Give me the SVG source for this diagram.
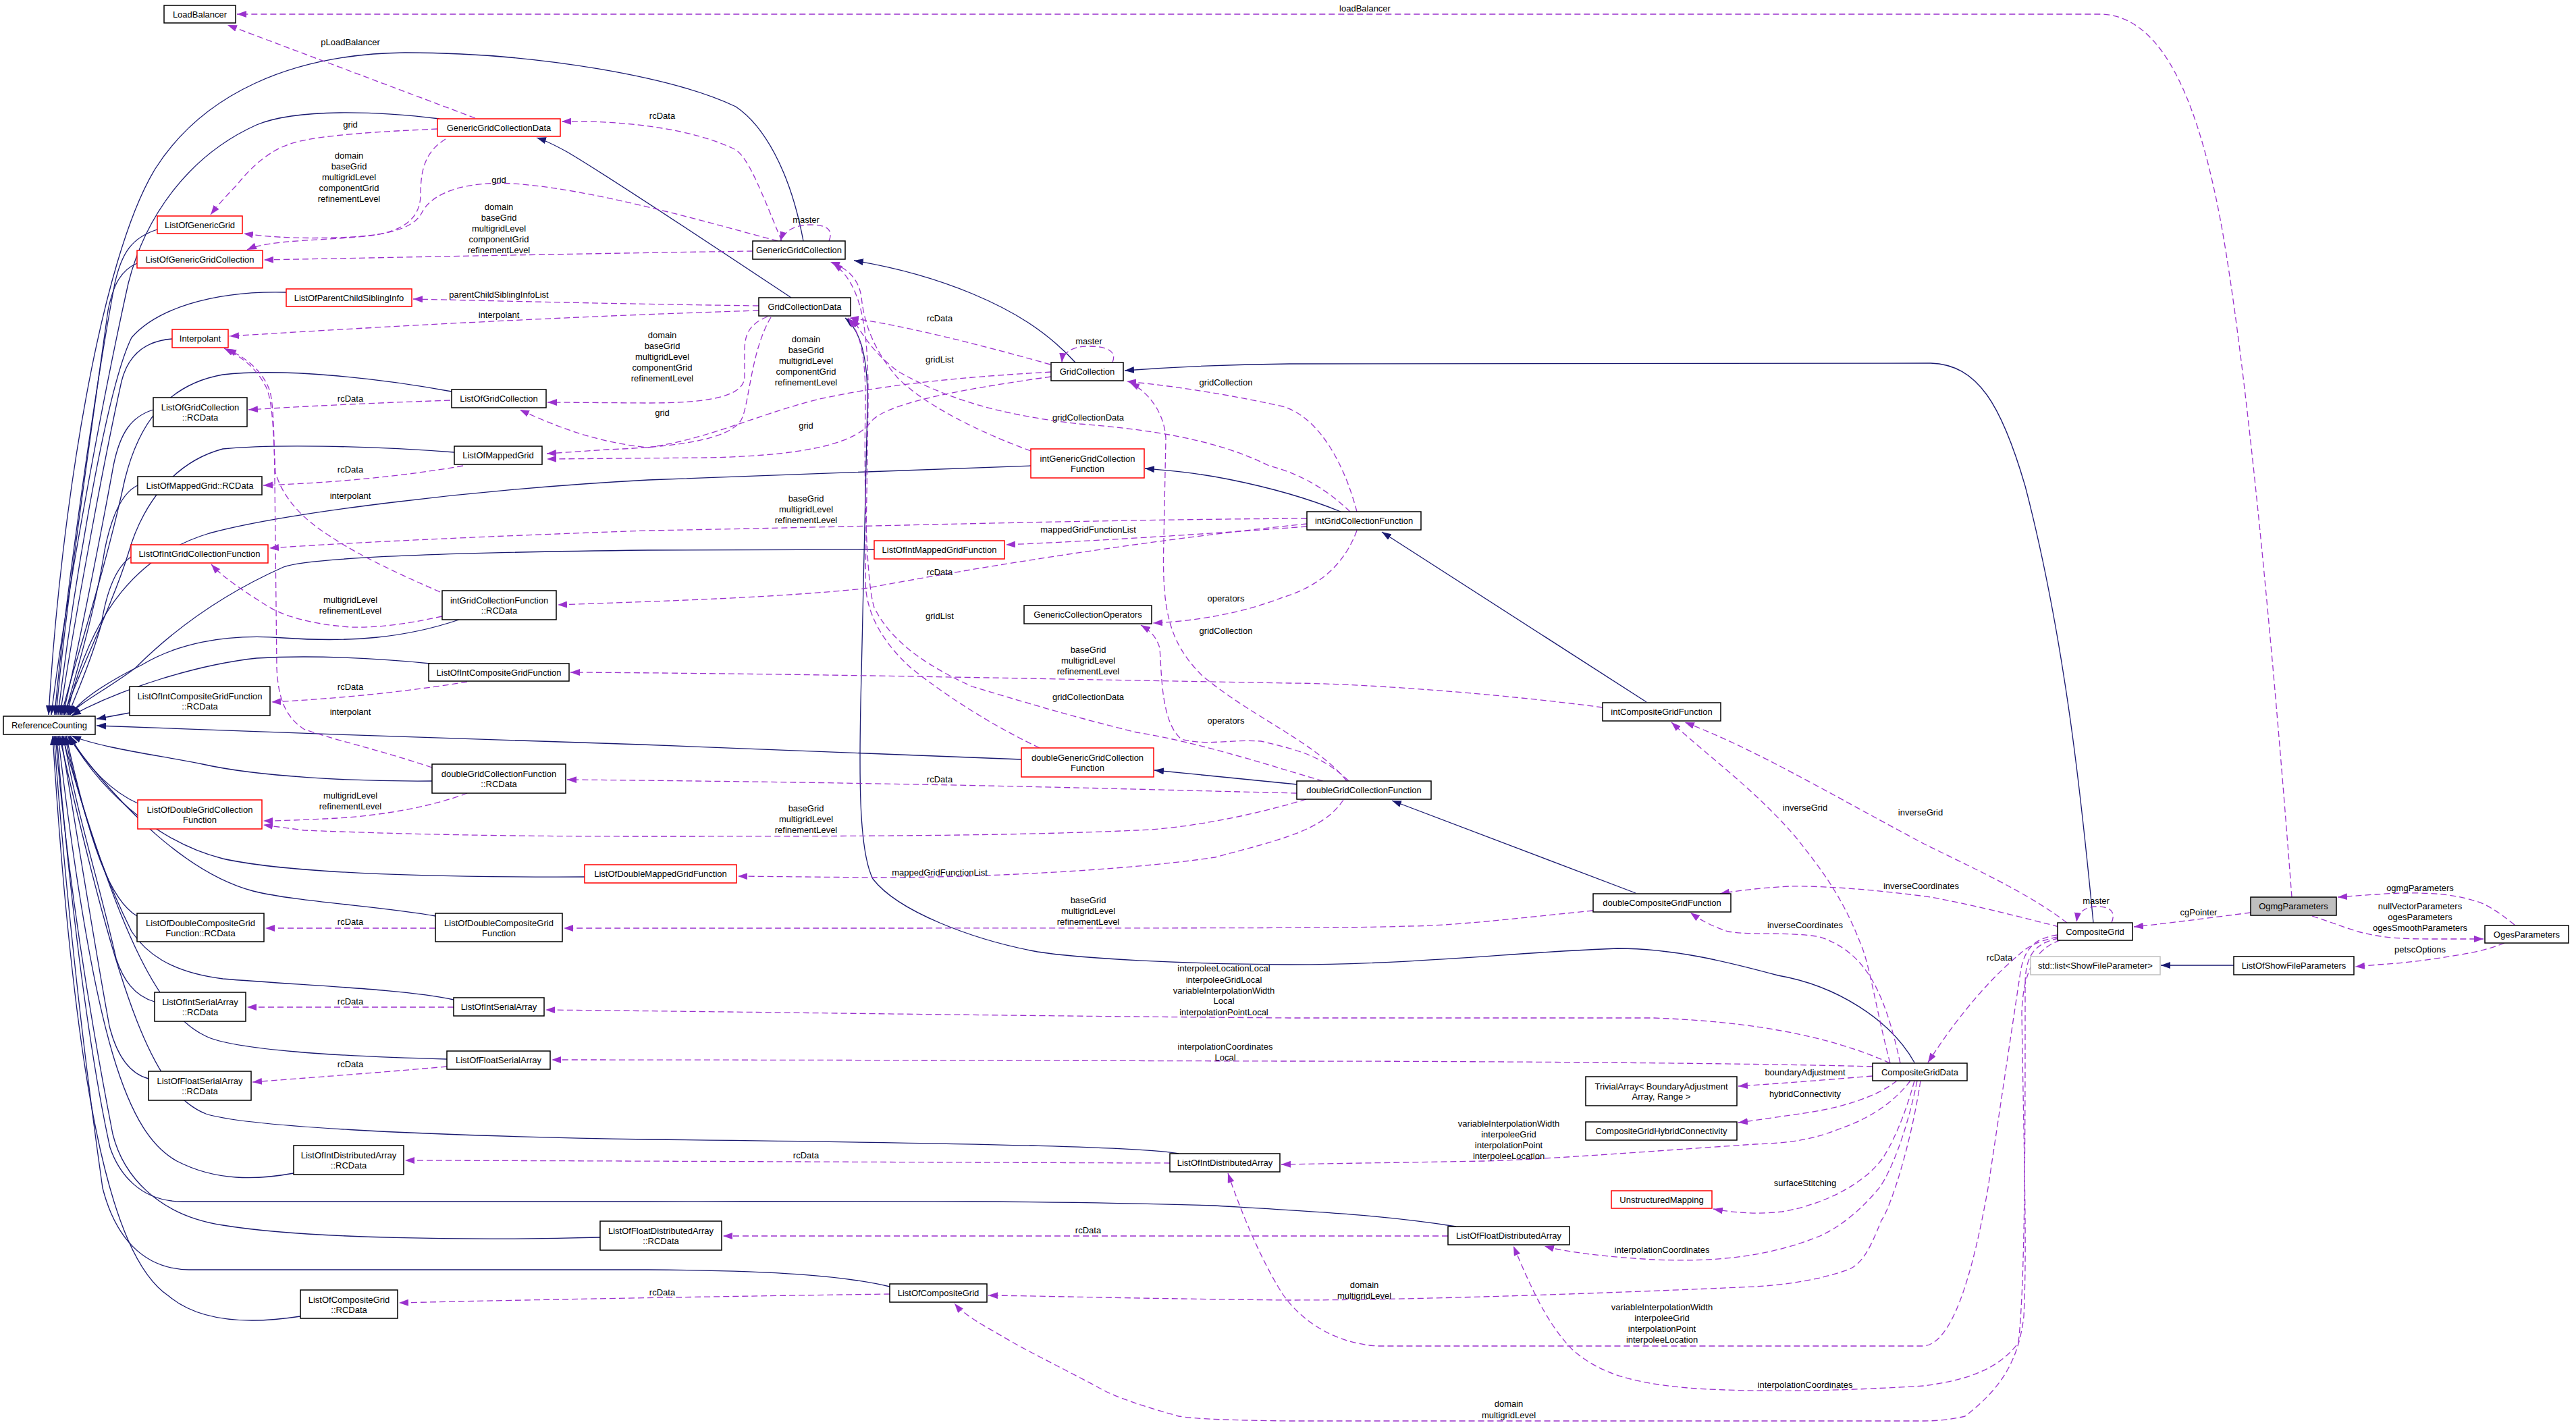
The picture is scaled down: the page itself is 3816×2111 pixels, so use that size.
<svg xmlns="http://www.w3.org/2000/svg" width="3816" height="2111" viewBox="0 0 3816 2111">
<defs>
<marker id="pa" viewBox="0 0 14 10" refX="14" refY="5" markerWidth="14" markerHeight="10" markerUnits="userSpaceOnUse" orient="auto"><path d="M0,0L14,5L0,10z" fill="#9a32cd"/></marker>
<marker id="na" viewBox="0 0 14 10" refX="14" refY="5" markerWidth="14" markerHeight="10" markerUnits="userSpaceOnUse" orient="auto"><path d="M0,0L14,5L0,10z" fill="#191970"/></marker>
<style>
text{font-family:"Liberation Sans",Arial,sans-serif;font-size:13px;fill:#000;text-anchor:middle}
.b{fill:#fff;stroke:#000;stroke-width:1.5}
.r{fill:#fff;stroke:#ff0000;stroke-width:1.5}
.g{fill:#bfbfbf;stroke:#000;stroke-width:1.5}
.s{fill:#fff;stroke:#bfbfbf;stroke-width:1.5}
.i{fill:none;stroke:#191970;stroke-width:1.3;marker-end:url(#na)}
.u{fill:none;stroke:#9a32cd;stroke-width:1.3;stroke-dasharray:9,5;marker-end:url(#pa)}
</style>
</defs>
<rect width="3816" height="2111" fill="#fff"/>
<g id="edges">
<!-- inheritance -->
<path class="i" d="M1190,357 C1170,250 1130,185 1090,158 C1000,115 800,78 600,78 C430,80 300,140 230,250 C150,380 90,750 72,1059"/>
<path class="i" d="M651,176 C560,165 440,160 380,185 C280,230 215,320 190,420 C150,600 95,900 76,1059"/>
<path class="i" d="M233,340 C195,352 180,375 170,420 C140,580 95,900 81,1059"/>
<path class="i" d="M203,390 C180,400 168,420 160,460 C135,640 97,900 83,1059"/>
<path class="i" d="M424,433 C310,430 230,460 195,500 C155,580 105,900 86,1059"/>
<path class="i" d="M255,502 C215,505 190,525 180,565 C150,700 105,950 89,1059"/>
<path class="i" d="M669,580 C560,560 420,545 330,555 C245,570 205,630 185,710 C155,850 105,1000 91,1059"/>
<path class="i" d="M227,607 C195,617 178,640 168,690 C148,800 108,1000 93,1059"/>
<path class="i" d="M673,670 C540,660 400,658 330,665 C255,685 210,750 190,820 C165,900 115,1000 95,1059"/>
<path class="i" d="M204,719 C180,730 165,765 155,815 C142,900 112,1000 96,1059"/>
<path class="i" d="M1527,690 L960,711 C700,725 420,760 310,790 C210,820 135,900 99,1059"/>
<path class="i" d="M194,825 C172,840 158,875 150,925 C135,980 112,1030 101,1059"/>
<path class="i" d="M680,918 C600,945 520,952 420,945 C330,938 260,955 210,985 C160,1010 120,1035 104,1059"/>
<path class="i" d="M1295,814 L960,815 C700,818 460,825 420,840 C330,880 260,930 200,990 C160,1020 120,1040 102,1059"/>
<path class="i" d="M637,983 C560,975 460,970 380,975 C290,985 180,1020 106,1060"/>
<path class="i" d="M192,1056 L143,1065"/>
<path class="i" d="M1513,1125 L950,1103 C700,1095 400,1085 143,1075"/>
<path class="i" d="M640,1157 C520,1158 380,1150 300,1132 C230,1118 150,1108 106,1090"/>
<path class="i" d="M204,1190 C170,1175 130,1140 104,1090"/>
<path class="i" d="M866,1299 C600,1300 420,1292 330,1272 C250,1252 160,1190 102,1090"/>
<path class="i" d="M645,1357 C560,1342 440,1336 375,1320 C280,1295 180,1200 100,1090"/>
<path class="i" d="M203,1357 C165,1335 135,1260 98,1090"/>
<path class="i" d="M672,1481 C600,1465 450,1460 330,1450 C250,1440 215,1410 195,1380 C155,1300 120,1200 96,1090"/>
<path class="i" d="M229,1484 C198,1475 182,1450 172,1420 C145,1300 112,1200 94,1090"/>
<path class="i" d="M662,1569 C500,1565 345,1555 305,1535 C240,1505 180,1400 92,1090"/>
<path class="i" d="M220,1598 C190,1590 172,1560 162,1520 C140,1400 108,1200 90,1090"/>
<path class="i" d="M1746,1709 C1700,1700 1500,1694 960,1688 C600,1682 360,1668 305,1650 C230,1620 180,1500 88,1090"/>
<path class="i" d="M435,1738 C380,1748 320,1750 262,1720 C190,1680 140,1550 86,1090"/>
<path class="i" d="M2157,1817 C2050,1800 1950,1795 1800,1786 C1500,1777 1200,1780 960,1780 L270,1780 C205,1780 175,1735 163,1700 C130,1550 100,1300 84,1090"/>
<path class="i" d="M889,1833 C700,1838 450,1835 330,1815 C232,1800 182,1740 167,1680 C132,1500 100,1300 82,1090"/>
<path class="i" d="M1318,1906 C1250,1890 1150,1882 960,1881 L280,1881 C210,1880 170,1830 152,1760 C122,1550 95,1300 80,1090"/>
<path class="i" d="M445,1950 C380,1960 300,1962 250,1920 C160,1860 110,1600 78,1090"/>
<path class="i" d="M1172,441 C1050,360 900,260 840,225 C820,214 808,208 795,204"/>
<path class="i" d="M1593,537 C1550,490 1500,460 1440,435 C1380,410 1320,395 1265,386"/>
<path class="i" d="M3101,1367 C3085,1200 3060,950 3000,720 C2965,600 2930,540 2860,538 L1910,539 C1800,540 1720,545 1666,549"/>
<path class="i" d="M1986,758 C1930,735 1870,720 1820,710 C1770,700 1730,697 1696,694"/>
<path class="i" d="M2439,1040 L2047,788"/>
<path class="i" d="M2423,1323 L2062,1186"/>
<path class="i" d="M1921,1162 L1710,1141"/>
<path class="i" d="M3309,1430 L3201,1430"/>
<path class="i" d="M2836,1574 C2800,1510 2720,1460 2634,1445 C2560,1425 2480,1405 2396,1405 C2250,1410 2100,1429 1910,1429 C1750,1428 1600,1420 1537,1410 C1440,1392 1330,1350 1293,1302 C1272,1260 1272,1150 1276,1000 L1285,600 C1286,530 1275,490 1252,471"/>
<!-- usage -->
<path class="u" d="M3395,1329 C3370,1000 3330,550 3290,330 C3260,170 3210,21 3110,21 L351,21"/>
<path class="u" d="M704,175 L337,37"/>
<path class="u" d="M1158,357 C1130,290 1110,235 1090,222 C1030,192 930,178 832,180"/>
<path class="u" d="M1228,357 C1235,340 1225,333 1200,333 C1175,333 1160,345 1156,357"/>
<path class="u" d="M648,191 C560,195 470,200 430,213 C395,225 370,250 350,275 C335,290 322,305 312,318"/>
<path class="u" d="M660,206 C630,225 623,250 623,290 C622,325 595,345 540,350 C470,357 400,355 366,370"/>
<path class="u" d="M1152,357 C1050,330 880,280 760,272 C690,268 640,285 625,315 C612,340 570,350 500,352 C430,354 390,350 361,346"/>
<path class="u" d="M1115,372 C900,375 600,381 391,385"/>
<path class="u" d="M1124,453 C900,450 750,446 612,443"/>
<path class="u" d="M1124,460 C800,470 500,488 340,498"/>
<path class="u" d="M1137,469 C1110,480 1103,495 1103,520 L1103,560 C1100,590 1040,597 960,597 L811,596"/>
<path class="u" d="M1142,470 C1112,520 1110,600 1098,622 C1080,652 1000,662 900,666 L810,672"/>
<path class="u" d="M1556,540 C1450,510 1330,480 1258,471"/>
<path class="u" d="M1648,537 C1655,520 1640,513 1612,513 C1585,513 1574,525 1573,537"/>
<path class="u" d="M1557,551 C1400,560 1300,572 1210,592 C1120,615 1050,650 960,663 C880,655 820,630 770,607"/>
<path class="u" d="M1557,558 C1400,580 1310,600 1290,625 C1265,660 1180,675 1050,678 L810,680"/>
<path class="u" d="M2010,758 C1995,700 1960,620 1900,602 C1800,580 1720,570 1669,565"/>
<path class="u" d="M1995,1157 C1950,1100 1850,1060 1780,1000 C1730,950 1721,900 1724,800 L1727,650 C1725,610 1700,580 1674,567"/>
<path class="u" d="M2010,786 C1990,840 1950,870 1900,885 C1850,905 1780,920 1708,923"/>
<path class="u" d="M1998,1157 C1960,1120 1920,1110 1868,1098 C1820,1095 1790,1105 1750,1095 C1720,1070 1721,1000 1718,960 C1712,940 1700,932 1690,926"/>
<path class="u" d="M1527,668 C1450,640 1370,600 1330,560 C1295,520 1280,480 1276,440 C1272,410 1250,395 1230,388"/>
<path class="u" d="M1540,1108 C1470,1075 1400,1030 1350,990 C1300,945 1282,900 1282,860 L1286,600 C1287,480 1275,420 1234,390"/>
<path class="u" d="M2000,758 C1960,720 1920,700 1880,690 C1800,650 1700,636 1600,628 C1480,615 1400,590 1330,550 C1290,520 1275,490 1262,471"/>
<path class="u" d="M1960,1157 C1900,1140 1780,1100 1684,1085 C1600,1065 1500,1035 1440,1017 C1370,985 1320,950 1295,900 C1282,860 1280,700 1282,600 C1283,520 1272,490 1256,471"/>
<path class="u" d="M1936,776 C1700,800 1450,840 1280,872 C1150,885 1000,890 826,896"/>
<path class="u" d="M1921,1175 C1700,1170 1400,1160 840,1155"/>
<path class="u" d="M1936,780 C1800,790 1650,800 1490,807"/>
<path class="u" d="M1990,1185 C1960,1230 1900,1243 1800,1270 C1700,1285 1500,1300 1293,1300 L1093,1298"/>
<path class="u" d="M1936,768 C1600,770 1300,780 960,786 C700,795 500,805 399,812"/>
<path class="u" d="M655,913 C600,925 560,930 520,929 C460,925 420,912 398,899 C360,875 330,855 313,836"/>
<path class="u" d="M2374,1048 C2200,1025 2000,1012 1910,1012 C1500,1005 1200,998 845,996"/>
<path class="u" d="M692,1175 C640,1195 560,1210 480,1213 C440,1215 410,1216 390,1216"/>
<path class="u" d="M1935,1184 C1850,1210 1750,1228 1684,1230 C1500,1238 1300,1239 950,1239 C750,1239 600,1236 450,1230 L390,1222"/>
<path class="u" d="M2360,1349 C2250,1360 2150,1372 2084,1372 C2000,1375 1900,1375 835,1375"/>
<path class="u" d="M652,877 C590,850 530,822 490,795 C450,770 420,740 408,700 C405,650 405,600 395,575 C380,545 360,530 332,516"/>
<path class="u" d="M640,1137 C560,1110 490,1095 450,1080 C420,1060 412,1030 410,990 L407,710 C406,640 405,600 400,580 C390,550 365,530 336,517"/>
<path class="u" d="M692,1010 C600,1025 500,1035 402,1040"/>
<path class="u" d="M645,1375 L393,1375"/>
<path class="u" d="M667,593 C550,597 450,602 368,607"/>
<path class="u" d="M686,690 C600,705 500,715 390,719"/>
<path class="u" d="M672,1492 L366,1492"/>
<path class="u" d="M662,1580 C550,1590 450,1597 374,1603"/>
<path class="u" d="M1733,1723 C1400,1722 1000,1720 600,1719"/>
<path class="u" d="M2145,1831 L1071,1831"/>
<path class="u" d="M1318,1917 C1100,1920 800,1925 591,1930"/>
<path class="u" d="M3334,1352 C3270,1360 3210,1368 3161,1373"/>
<path class="u" d="M3128,1367 C3135,1350 3125,1343 3107,1343 C3088,1343 3078,1352 3076,1366"/>
<path class="u" d="M3048,1388 C3015,1395 3000,1405 2990,1415 C2960,1440 2910,1490 2856,1574"/>
<path class="u" d="M3062,1367 C3000,1320 2920,1285 2850,1250 C2700,1170 2600,1110 2496,1070"/>
<path class="u" d="M2800,1575 C2780,1500 2770,1430 2757,1400 C2730,1330 2700,1290 2660,1240 C2600,1170 2530,1120 2476,1070"/>
<path class="u" d="M3050,1373 C2980,1355 2920,1340 2860,1329 C2780,1318 2700,1312 2650,1313 C2600,1316 2570,1320 2548,1324"/>
<path class="u" d="M2815,1575 C2790,1460 2760,1410 2696,1388 C2650,1380 2600,1386 2560,1380 C2530,1370 2515,1360 2504,1352"/>
<path class="u" d="M2800,1575 C2700,1530 2580,1513 2450,1508 L1910,1508 C1500,1505 1200,1500 808,1496"/>
<path class="u" d="M2774,1580 C2600,1575 2200,1572 1900,1572 C1500,1571 1100,1570 817,1570"/>
<path class="u" d="M2774,1594 C2700,1600 2640,1605 2575,1609"/>
<path class="u" d="M2810,1601 C2780,1625 2730,1640 2680,1648 C2630,1655 2600,1660 2575,1663"/>
<path class="u" d="M2830,1601 C2800,1640 2760,1660 2726,1672 C2680,1690 2650,1693 2600,1695 C2450,1705 2300,1717 2200,1720 L1898,1725"/>
<path class="u" d="M2836,1601 C2820,1660 2800,1700 2788,1717 C2760,1755 2700,1785 2640,1795 C2600,1800 2560,1795 2538,1791"/>
<path class="u" d="M2840,1601 C2820,1700 2790,1755 2781,1763 C2750,1800 2720,1820 2696,1831 C2620,1862 2540,1870 2450,1866 C2380,1862 2320,1855 2288,1846"/>
<path class="u" d="M2845,1601 C2830,1700 2800,1790 2787,1808 C2770,1850 2760,1870 2740,1880 C2700,1895 2650,1903 2600,1906 C2400,1915 2100,1926 1910,1926 C1700,1924 1550,1920 1464,1919"/>
<path class="u" d="M3048,1385 C3010,1390 2998,1410 2993,1440 L2945,1760 C2920,1900 2890,1990 2850,1994 L2040,1994 C1980,1990 1930,1960 1900,1917 C1870,1870 1840,1800 1819,1738"/>
<path class="u" d="M3050,1390 C3010,1398 3000,1420 3000,1460 C3000,1700 3000,1900 2990,1989 C2960,2030 2910,2045 2850,2053 C2700,2062 2600,2062 2512,2057 C2420,2050 2370,2035 2330,2000 C2290,1960 2265,1900 2242,1846"/>
<path class="u" d="M3052,1393 C3015,1405 2997,1440 2995,1500 C2998,1700 3003,1850 2998,1950 C2990,2020 2960,2060 2911,2098 C2890,2103 2870,2105 2850,2105 L1910,2105 C1820,2104 1770,2102 1746,2098 C1700,2085 1650,2070 1623,2053 C1560,2020 1520,2000 1501,1989 C1460,1965 1430,1950 1414,1931"/>
<path class="u" d="M3725,1370 C3700,1350 3680,1337 3664,1334 C3620,1320 3560,1322 3520,1325 C3500,1326 3480,1328 3463,1329"/>
<path class="u" d="M3425,1357 C3450,1365 3470,1373 3493,1380 C3530,1390 3560,1391 3600,1391 L3679,1391"/>
<path class="u" d="M3710,1397 C3690,1405 3670,1410 3646,1414 C3600,1422 3560,1427 3523,1429 L3489,1432"/>
</g>
<g id="labels">
<text x="2022" y="17">loadBalancer</text>
<text x="519" y="67">pLoadBalancer</text>
<text x="981" y="176">rcData</text>
<text x="1194" y="330">master</text>
<text x="519" y="189">grid</text>
<text x="517" y="235">domain</text><text x="517" y="251">baseGrid</text><text x="517" y="267">multigridLevel</text><text x="517" y="283">componentGrid</text><text x="517" y="299">refinementLevel</text>
<text x="739" y="271">grid</text>
<text x="739" y="311">domain</text><text x="739" y="327">baseGrid</text><text x="739" y="343">multigridLevel</text><text x="739" y="359">componentGrid</text><text x="739" y="375">refinementLevel</text>
<text x="739" y="441">parentChildSiblingInfoList</text>
<text x="739" y="471">interpolant</text>
<text x="981" y="501">domain</text><text x="981" y="517">baseGrid</text><text x="981" y="533">multigridLevel</text><text x="981" y="549">componentGrid</text><text x="981" y="565">refinementLevel</text>
<text x="981" y="616">grid</text>
<text x="1392" y="476">rcData</text>
<text x="1613" y="510">master</text>
<text x="1194" y="507">domain</text><text x="1194" y="523">baseGrid</text><text x="1194" y="539">multigridLevel</text><text x="1194" y="555">componentGrid</text><text x="1194" y="571">refinementLevel</text>
<text x="1194" y="635">grid</text>
<text x="1816" y="571">gridCollection</text>
<text x="1816" y="939">gridCollection</text>
<text x="1816" y="891">operators</text>
<text x="1816" y="1072">operators</text>
<text x="1392" y="537">gridList</text>
<text x="1392" y="917">gridList</text>
<text x="1612" y="623">gridCollectionData</text>
<text x="1612" y="1037">gridCollectionData</text>
<text x="1392" y="852">rcData</text>
<text x="1392" y="1159">rcData</text>
<text x="1612" y="789">mappedGridFunctionList</text>
<text x="1392" y="1297">mappedGridFunctionList</text>
<text x="1194" y="743">baseGrid</text><text x="1194" y="759">multigridLevel</text><text x="1194" y="775">refinementLevel</text>
<text x="519" y="893">multigridLevel</text><text x="519" y="909">refinementLevel</text>
<text x="1612" y="967">baseGrid</text><text x="1612" y="983">multigridLevel</text><text x="1612" y="999">refinementLevel</text>
<text x="519" y="1183">multigridLevel</text><text x="519" y="1199">refinementLevel</text>
<text x="1194" y="1202">baseGrid</text><text x="1194" y="1218">multigridLevel</text><text x="1194" y="1234">refinementLevel</text>
<text x="1612" y="1338">baseGrid</text><text x="1612" y="1354">multigridLevel</text><text x="1612" y="1370">refinementLevel</text>
<text x="519" y="739">interpolant</text>
<text x="519" y="1059">interpolant</text>
<text x="519" y="1022">rcData</text>
<text x="519" y="1370">rcData</text>
<text x="519" y="595">rcData</text>
<text x="519" y="700">rcData</text>
<text x="519" y="1488">rcData</text>
<text x="519" y="1581">rcData</text>
<text x="1194" y="1716">rcData</text>
<text x="1612" y="1827">rcData</text>
<text x="981" y="1919">rcData</text>
<text x="3257" y="1356">cgPointer</text>
<text x="3105" y="1339">master</text>
<text x="2962" y="1423">rcData</text>
<text x="2845" y="1208">inverseGrid</text>
<text x="2674" y="1201">inverseGrid</text>
<text x="2846" y="1317">inverseCoordinates</text>
<text x="2674" y="1375">inverseCoordinates</text>
<text x="1813" y="1439">interpoleeLocationLocal</text><text x="1813" y="1456">interpoleeGridLocal</text><text x="1813" y="1472">variableInterpolationWidth</text><text x="1813" y="1487">Local</text><text x="1813" y="1504">interpolationPointLocal</text>
<text x="1815" y="1555">interpolationCoordinates</text><text x="1815" y="1571">Local</text>
<text x="2674" y="1593">boundaryAdjustment</text>
<text x="2674" y="1625">hybridConnectivity</text>
<text x="2235" y="1669">variableInterpolationWidth</text><text x="2235" y="1685">interpoleeGrid</text><text x="2235" y="1701">interpolationPoint</text><text x="2235" y="1717">interpoleeLocation</text>
<text x="2674" y="1757">surfaceStitching</text>
<text x="2462" y="1856">interpolationCoordinates</text>
<text x="2021" y="1908">domain</text><text x="2021" y="1924">multigridLevel</text>
<text x="2462" y="1941">variableInterpolationWidth</text><text x="2462" y="1957">interpoleeGrid</text><text x="2462" y="1973">interpolationPoint</text><text x="2462" y="1989">interpoleeLocation</text>
<text x="2674" y="2056">interpolationCoordinates</text>
<text x="2235" y="2084">domain</text><text x="2235" y="2101">multigridLevel</text>
<text x="3585" y="1320">ogmgParameters</text>
<text x="3585" y="1347">nullVectorParameters</text><text x="3585" y="1363">ogesParameters</text><text x="3585" y="1379">ogesSmoothParameters</text>
<text x="3585" y="1411">petscOptions</text>
</g>
<g id="n_LoadBalancer"><rect class="b" x="243" y="8" width="106" height="26"/><text x="296" y="25.5">LoadBalancer</text></g>
<g id="n_GenericGridCollectionData"><rect class="r" x="648" y="176" width="182" height="26"/><text x="739" y="193.5">GenericGridCollectionData</text></g>
<g id="n_ListOfGenericGrid"><rect class="r" x="233" y="320" width="126" height="26"/><text x="296" y="337.5">ListOfGenericGrid</text></g>
<g id="n_ListOfGenericGridCollection"><rect class="r" x="203" y="371" width="186" height="26"/><text x="296" y="388.5">ListOfGenericGridCollection</text></g>
<g id="n_ListOfParentChildSiblingInfo"><rect class="r" x="424" y="428" width="186" height="26"/><text x="517" y="445.5">ListOfParentChildSiblingInfo</text></g>
<g id="n_Interpolant"><rect class="r" x="255" y="488" width="83" height="27"/><text x="296.5" y="506">Interpolant</text></g>
<g id="n_ListOfGridCollection"><rect class="b" x="669" y="577" width="140" height="27"/><text x="739" y="595">ListOfGridCollection</text></g>
<g id="n_ListOfGridCollection_RCData"><rect class="b" x="227" y="589" width="139" height="43"/><text x="296.5" y="607.5">ListOfGridCollection</text><text x="296.5" y="623">::RCData</text></g>
<g id="n_ListOfMappedGrid"><rect class="b" x="673" y="661" width="130" height="27"/><text x="738" y="679">ListOfMappedGrid</text></g>
<g id="n_GenericGridCollection"><rect class="b" x="1115" y="357" width="137" height="27"/><text x="1183.5" y="375">GenericGridCollection</text></g>
<g id="n_GridCollectionData"><rect class="b" x="1124" y="441" width="136" height="27"/><text x="1192" y="459">GridCollectionData</text></g>
<g id="n_GridCollection"><rect class="b" x="1557" y="537" width="107" height="27"/><text x="1610.5" y="555">GridCollection</text></g>
<g id="n_intGenericGridCollectionFunction"><rect class="r" x="1527" y="665" width="168" height="43"/><text x="1611" y="683.5">intGenericGridCollection</text><text x="1611" y="699">Function</text></g>
<g id="n_ListOfMappedGrid_RCData"><rect class="b" x="204" y="706" width="184" height="27"/><text x="296" y="724">ListOfMappedGrid::RCData</text></g>
<g id="n_ListOfIntGridCollectionFunction"><rect class="r" x="194" y="807" width="203" height="27"/><text x="295.5" y="825">ListOfIntGridCollectionFunction</text></g>
<g id="n_intGridCollectionFunction_RCData"><rect class="b" x="655" y="875" width="169" height="43"/><text x="739.5" y="893.5">intGridCollectionFunction</text><text x="739.5" y="909">::RCData</text></g>
<g id="n_ListOfIntCompositeGridFunction"><rect class="b" x="635" y="983" width="208" height="26"/><text x="739" y="1000.5">ListOfIntCompositeGridFunction</text></g>
<g id="n_ListOfIntCompositeGridFunction_RCData"><rect class="b" x="192" y="1017" width="208" height="43"/><text x="296" y="1035.5">ListOfIntCompositeGridFunction</text><text x="296" y="1051">::RCData</text></g>
<g id="n_ReferenceCounting"><rect class="b" x="5" y="1061" width="136" height="27"/><text x="73" y="1079">ReferenceCounting</text></g>
<g id="n_doubleGridCollectionFunction_RCData"><rect class="b" x="640" y="1132" width="198" height="43"/><text x="739" y="1150.5">doubleGridCollectionFunction</text><text x="739" y="1166">::RCData</text></g>
<g id="n_ListOfDoubleGridCollectionFunction"><rect class="r" x="204" y="1185" width="184" height="43"/><text x="296" y="1203.5">ListOfDoubleGridCollection</text><text x="296" y="1219">Function</text></g>
<g id="n_ListOfDoubleMappedGridFunction"><rect class="r" x="866" y="1281" width="225" height="27"/><text x="978.5" y="1299">ListOfDoubleMappedGridFunction</text></g>
<g id="n_ListOfDoubleCompositeGridFunction_RCData"><rect class="b" x="203" y="1353" width="188" height="42"/><text x="297" y="1371.5">ListOfDoubleCompositeGrid</text><text x="297" y="1387">Function::RCData</text></g>
<g id="n_ListOfDoubleCompositeGridFunction"><rect class="b" x="645" y="1353" width="188" height="42"/><text x="739" y="1371.5">ListOfDoubleCompositeGrid</text><text x="739" y="1387">Function</text></g>
<g id="n_ListOfIntMappedGridFunction"><rect class="r" x="1295" y="801" width="193" height="27"/><text x="1391.5" y="819">ListOfIntMappedGridFunction</text></g>
<g id="n_GenericCollectionOperators"><rect class="b" x="1517" y="897" width="189" height="27"/><text x="1611.5" y="915">GenericCollectionOperators</text></g>
<g id="n_doubleGenericGridCollectionFunction"><rect class="r" x="1513" y="1108" width="196" height="43"/><text x="1611" y="1126.5">doubleGenericGridCollection</text><text x="1611" y="1142">Function</text></g>
<g id="n_intGridCollectionFunction"><rect class="b" x="1936" y="758" width="169" height="27"/><text x="2020.5" y="776">intGridCollectionFunction</text></g>
<g id="n_intCompositeGridFunction"><rect class="b" x="2374" y="1041" width="175" height="27"/><text x="2461.5" y="1059">intCompositeGridFunction</text></g>
<g id="n_doubleGridCollectionFunction"><rect class="b" x="1921" y="1157" width="199" height="27"/><text x="2020.5" y="1175">doubleGridCollectionFunction</text></g>
<g id="n_doubleCompositeGridFunction"><rect class="b" x="2360" y="1324" width="204" height="27"/><text x="2462" y="1342">doubleCompositeGridFunction</text></g>
<g id="n_OgmgParameters"><rect class="g" x="3334" y="1329" width="127" height="27"/><text x="3397.5" y="1347">OgmgParameters</text></g>
<g id="n_CompositeGrid"><rect class="b" x="3048" y="1367" width="111" height="26"/><text x="3103.5" y="1384.5">CompositeGrid</text></g>
<g id="n_OgesParameters"><rect class="b" x="3681" y="1371" width="124" height="26"/><text x="3743" y="1388.5">OgesParameters</text></g>
<g id="n_std_list_ShowFileParameter"><rect class="s" x="3008" y="1417" width="192" height="27"/><text x="3104" y="1435">std::list&lt;ShowFileParameter&gt;</text></g>
<g id="n_ListOfShowFileParameters"><rect class="b" x="3309" y="1417" width="178" height="27"/><text x="3398" y="1435">ListOfShowFileParameters</text></g>
<g id="n_CompositeGridData"><rect class="b" x="2774" y="1575" width="140" height="26"/><text x="2844" y="1592.5">CompositeGridData</text></g>
<g id="n_TrivialArray"><rect class="b" x="2349" y="1595" width="224" height="43"/><text x="2461" y="1613.5">TrivialArray&lt; BoundaryAdjustment</text><text x="2461" y="1629">Array, Range &gt;</text></g>
<g id="n_CompositeGridHybridConnectivity"><rect class="b" x="2349" y="1662" width="224" height="27"/><text x="2461" y="1680">CompositeGridHybridConnectivity</text></g>
<g id="n_UnstructuredMapping"><rect class="r" x="2387" y="1764" width="149" height="26"/><text x="2461.5" y="1781.5">UnstructuredMapping</text></g>
<g id="n_ListOfFloatDistributedArray"><rect class="b" x="2145" y="1817" width="180" height="27"/><text x="2235" y="1835">ListOfFloatDistributedArray</text></g>
<g id="n_ListOfIntSerialArray_RCData"><rect class="b" x="229" y="1470" width="135" height="43"/><text x="296.5" y="1488.5">ListOfIntSerialArray</text><text x="296.5" y="1504">::RCData</text></g>
<g id="n_ListOfIntSerialArray"><rect class="b" x="672" y="1478" width="134" height="27"/><text x="739" y="1496">ListOfIntSerialArray</text></g>
<g id="n_ListOfFloatSerialArray"><rect class="b" x="662" y="1557" width="153" height="27"/><text x="738.5" y="1575">ListOfFloatSerialArray</text></g>
<g id="n_ListOfFloatSerialArray_RCData"><rect class="b" x="220" y="1587" width="152" height="43"/><text x="296" y="1605.5">ListOfFloatSerialArray</text><text x="296" y="1621">::RCData</text></g>
<g id="n_ListOfIntDistributedArray_RCData"><rect class="b" x="435" y="1697" width="163" height="43"/><text x="516.5" y="1715.5">ListOfIntDistributedArray</text><text x="516.5" y="1731">::RCData</text></g>
<g id="n_ListOfFloatDistributedArray_RCData"><rect class="b" x="889" y="1809" width="180" height="43"/><text x="979" y="1827.5">ListOfFloatDistributedArray</text><text x="979" y="1843">::RCData</text></g>
<g id="n_ListOfCompositeGrid_RCData"><rect class="b" x="445" y="1911" width="144" height="42"/><text x="517" y="1929.5">ListOfCompositeGrid</text><text x="517" y="1945">::RCData</text></g>
<g id="n_ListOfIntDistributedArray"><rect class="b" x="1733" y="1709" width="163" height="27"/><text x="1814.5" y="1727">ListOfIntDistributedArray</text></g>
<g id="n_ListOfCompositeGrid"><rect class="b" x="1318" y="1902" width="144" height="27"/><text x="1390" y="1920">ListOfCompositeGrid</text></g>
</svg>
